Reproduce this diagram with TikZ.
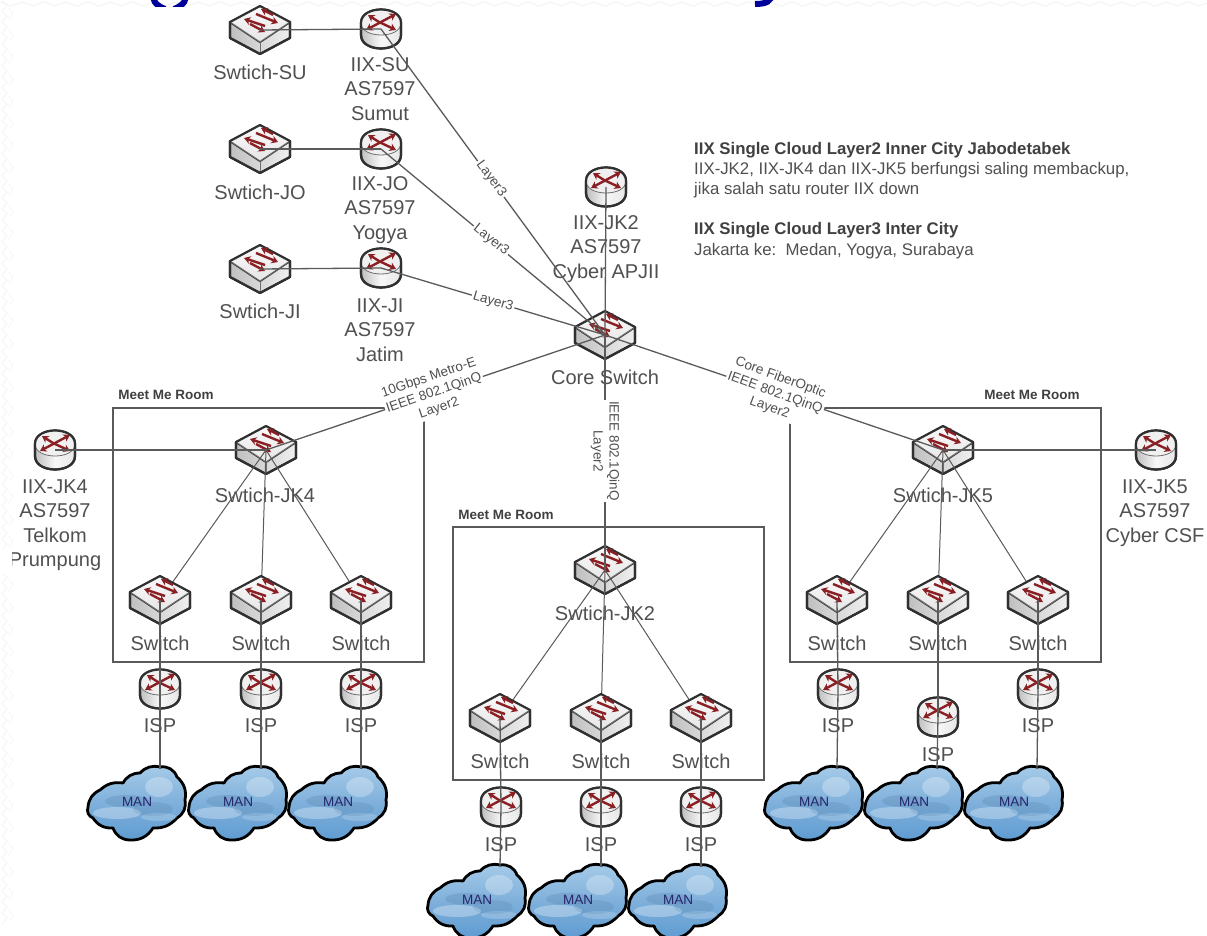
\documentclass[tikz,border=0pt]{standalone}
\usepackage{fontspec}
\setmainfont{Liberation Sans}
\usetikzlibrary{arrows.meta,shadings,calc}
\definecolor{txt}{HTML}{505050}
\definecolor{ln}{HTML}{5A5A5A}
\definecolor{edgek}{HTML}{303030}
\definecolor{redk}{HTML}{8A1F24}
\definecolor{titleblue}{HTML}{00009A}
\definecolor{cloudhi}{HTML}{A6CBE8}
\definecolor{cloudlo}{HTML}{5F9CD2}
\tikzset{
  big/.style={font=\fontsize{20}{24}\selectfont,text=txt,inner sep=0pt,align=center},
  small/.style={font=\fontsize{13.5}{16}\selectfont,text=txt,inner sep=1.5pt,align=center},
  onlink/.style={small,fill=white},
  room/.style={font=\fontsize{13.5}{16}\selectfont\bfseries,text=black!75,inner sep=0pt},
  note/.style={font=\fontsize{16.8}{20}\selectfont,text=txt,inner sep=0pt,anchor=west},
  noteb/.style={font=\fontsize{16.8}{20}\selectfont\bfseries,text=black!75,inner sep=0pt,anchor=west},
  link/.style={draw=ln,line width=1.3pt},
  boxline/.style={draw=ln,line width=1.4pt},
  redar/.style={draw=redk,line width=2.4pt,-{Stealth[length=6.5pt,width=8pt]}},
  iconedge/.style={draw=edgek,line width=2.2pt,line join=round},
}
\newcommand{\swicon}[3]{%
  \coordinate (#1) at (#2,#3);
  \begin{scope}[shift={(#2,#3)}]
    \path[iconedge,left color=black!25,right color=black!6] (-30,-8) -- (0,12) -- (30,-8) -- (30,8) -- (0,24) -- (-30,8) -- cycle;
    \path[draw=edgek!70,line width=1pt,top color=black!2,bottom color=black!10] (0,-24) -- (30,-8) -- (0,12) -- (-30,-8) -- cycle;
    \draw[draw=edgek!70,line width=1pt] (0,12) -- (0,24);
    \draw[iconedge] (0,-24) -- (30,-8) -- (30,8) -- (0,24) -- (-30,8) -- (-30,-8) -- cycle;
    \draw[redar] (13,-15) -- (1,-21);
    \draw[redar] (-4,-16) -- (18,-7);
    \draw[redar] (5,-4) -- (-16,-11);
    \draw[redar] (-10,-6) -- (5,2);
  \end{scope}}
\newcommand{\rticon}[3]{%
  \coordinate (#1) at (#2,#3);
  \begin{scope}[shift={(#2,#3)}]
    \path[iconedge,left color=black!25,right color=black!10,middle color=black!3]
      (-20,-6) .. controls (-20,-24) and (20,-24) .. (20,-6) -- (20,6)
      .. controls (20,24) and (-20,24) .. (-20,6) -- cycle;
    \path[draw=edgek!70,line width=.8pt,fill=white!94!black]
      (-20,-6) .. controls (-20,-24) and (20,-24) .. (20,-6)
      .. controls (20,10) and (-20,10) .. (-20,-6) -- cycle;
    \draw[iconedge,fill=none]
      (-20,-6) .. controls (-20,-24) and (20,-24) .. (20,-6) -- (20,6)
      .. controls (20,24) and (-20,24) .. (-20,6) -- cycle;
    \draw[redar] (-2,-7) -- (-13,-14);
    \draw[redar] (-2,-7) -- (15,1);
    \draw[redar] (0,-7) -- (15,-15);
    \draw[redar] (0,-7) -- (-15,1);
  \end{scope}}
\newcommand{\cloudicon}[3]{%
  \coordinate (#1) at (#2,#3);
  \begin{scope}[shift={(#2,#3)}]
    \coordinate (#1-t) at (23,-36);
    \path[draw=black,line width=2.8pt,line join=round,top color=cloudhi,bottom color=cloudlo,middle color=cloudlo!80!white]
      (23,-38) to[bend left=40] (40,-28) to[bend left=30] (48,-5) to[bend left=35] (40,13)
      to[bend left=25] (16,23) to[bend left=30] (-7,35) to[bend left=35] (-24,23)
      to[bend left=30] (-44,13) to[bend left=45] (-49,2) to[bend left=30] (-37,-15)
      to[bend left=25] (-14,-22) to[bend left=30] (3,-32) to[bend left=30] cycle;
    \fill[white,opacity=.3] (-20,8) ellipse[x radius=24pt,y radius=6pt];
    \fill[white,opacity=.28] (22,-18) ellipse[x radius=14pt,y radius=10pt];
    \fill[white,opacity=.2] (22,12) ellipse[x radius=18pt,y radius=4pt];
    \fill[cloudlo!70!black,opacity=.2] (-10,-4) ellipse[x radius=22pt,y radius=6pt];
    \fill[cloudlo!70!black,opacity=.16] (16,4) ellipse[x radius=20pt,y radius=7pt];
  \end{scope}
  \node[small,inner sep=0pt,text=black!60!blue!70!gray] (#1-l) at ($(#2,#3)+(0,-3)$) {MAN};}
\begin{document}
\begin{tikzpicture}[x=1pt,y=-1pt]
\useasboundingbox (0,0) rectangle (1207,936);
\clip (0,0) rectangle (1207,936);
\fill[white] (0,0) rectangle (1207,936);
% faint slide texture
\foreach \k in {0,22,...,920}{
  \draw[black!4,line width=.8pt] (2,\k) -- (7,\k+5) -- (2,\k+11) -- (7,\k+16) -- (2,\k+22);
  \draw[black!3,line width=.8pt] (9,\k+8) -- (13,\k+13) -- (9,\k+19);
}
\foreach \k in {0,22,...,1200}{
  \draw[black!5,line width=.8pt] (\k,2) -- (\k+11,6) -- (\k+22,2);
}
% clipped title fragments
\begin{scope}
  \clip (0,0) rectangle (1207,7);
  \draw[titleblue,line width=6pt] (153,-8) .. controls (152,0) and (155,5) .. (165,9);
  \draw[titleblue,line width=6pt] (186,-8) .. controls (187,0) and (184,5) .. (174,9);
  \draw[titleblue,line width=6pt] (772,-6) .. controls (771,1) and (767,4) .. (755,4);
\end{scope}

% rooms
\path[boxline] (113,408) rectangle (424,662);
\path[boxline] (790,408) rectangle (1101,662);
\path[boxline] (453,527) rectangle (764,780);
\node[room] (roomL) at (166,395) {Meet Me Room};
\node[room] (roomR) at (1032,395) {Meet Me Room};
\node[room] (roomM) at (506,515) {Meet Me Room};

% upper devices
\swicon{sSU}{260}{30}
\swicon{sJO}{260}{149}
\swicon{sJI}{260}{269}
\rticon{rSU}{381}{29}
\rticon{rJO}{381}{149}
\rticon{rJI}{381}{268}
\rticon{rJK2}{606}{187}
\swicon{core}{605}{335}
\swicon{sJK4}{266}{450}
\swicon{sJK5}{943}{450}
\swicon{sJK2}{605}{570}
\rticon{rJK4}{55}{450}
\rticon{rJK5}{1156}{450}

% device labels
\node[big] (tSU) at (260,72) {Swtich-SU};
\node[big] (tJO) at (260,192) {Swtich-JO};
\node[big] (tJI) at (260,311) {Swtich-JI};
\node[big,font=\fontsize{20}{24.5}\selectfont] (tRSU) at (380,89) {IIX-SU\\AS7597\\Sumut};
\node[big,font=\fontsize{20}{24.5}\selectfont] (tRJO) at (380,210) {IIX-JO\\AS7597\\Yogya};
\node[big,font=\fontsize{20}{24.5}\selectfont] (tRJI) at (380,330) {IIX-JI\\AS7597\\Jatim};
\node[big,font=\fontsize{20}{24.5}\selectfont] (tJK2) at (606,249) {IIX-JK2\\AS7597\\Cyber APJII};
\node[big] (tCore) at (605,377) {Core Switch};
\node[big] (tSJK4) at (265,495) {Swtich-JK4};
\node[big] (tSJK5) at (943,495) {Swtich-JK5};
\node[big] (tSJK2) at (605,613) {Swtich-JK2};
\node[big,font=\fontsize{20}{24.5}\selectfont] (tRJK4) at (55,525) {IIX-JK4\\AS7597\\Telkom\\Prumpung};
\fill[white] (0,550) rectangle (11.5,574);
\node[big,font=\fontsize{20}{24.5}\selectfont] (tRJK5) at (1155,513) {IIX-JK5\\AS7597\\Cyber CSF};

% upper connectors
\draw[link] (sSU) -- (rSU);
\draw[link] (sJO) -- (rJO);
\draw[link] (sJI) -- (rJI);
\draw[link] (rSU) -- (core);
\draw[link] (rJO) -- (core);
\draw[link] (rJI) -- (core);
\draw[link] (rJK2) -- (core);
\draw[link] (core) -- (sJK4);
\draw[link] (core) -- (sJK5);
\draw[link] (core) -- (sJK2);
\draw[link] (rJK4) -- (sJK4);
\draw[link] (sJK5) -- (rJK5);

% connector labels
\node[onlink,rotate=-54] (lbSU) at (491,179) {Layer3};
\node[onlink,rotate=-39] (lbJO) at (491,240) {Layer3};
\node[onlink,rotate=-16] (lbJI) at (493,302) {Layer3};
\node[onlink,rotate=18.7] (lbL) at (434,393) {10Gbps Metro-E\\IEEE 802.1QinQ\\Layer2};
\node[onlink,rotate=-20] (lbR) at (775,393) {Core FiberOptic\\IEEE 802.1QinQ\\Layer2};
\node[onlink,rotate=-90] (lbM) at (605,451) {IEEE 802.1QinQ\\Layer2};

% links to lower switches (passing under them)
\coordinate (a1) at (160,600); \coordinate (a2) at (261,600); \coordinate (a3) at (361,600);
\coordinate (b1) at (500,718); \coordinate (b2) at (601,718); \coordinate (b3) at (701,718);
\coordinate (c1) at (837,600); \coordinate (c2) at (938,600); \coordinate (c3) at (1038,600);
\draw[link,line width=1pt] (sJK4) -- (a1); \draw[link,line width=1pt] (sJK4) -- (a2); \draw[link,line width=1pt] (sJK4) -- (a3);
\draw[link,line width=1pt] (sJK2) -- (b1); \draw[link,line width=1pt] (sJK2) -- (b2); \draw[link,line width=1pt] (sJK2) -- (b3);
\draw[link,line width=1pt] (sJK5) -- (c1); \draw[link,line width=1pt] (sJK5) -- (c2); \draw[link,line width=1pt] (sJK5) -- (c3);

% lower devices
\swicon{sa1}{160}{600} \swicon{sa2}{261}{600} \swicon{sa3}{361}{600}
\swicon{sb1}{500}{718} \swicon{sb2}{601}{718} \swicon{sb3}{701}{718}
\swicon{sc1}{837}{600} \swicon{sc2}{938}{600} \swicon{sc3}{1038}{600}
\rticon{ia1}{160}{689} \rticon{ia2}{261}{689} \rticon{ia3}{361}{689}
\rticon{ib1}{501}{807} \rticon{ib2}{601}{807} \rticon{ib3}{701}{807}
\rticon{ic1}{838}{689} \rticon{ic2}{938}{717} \rticon{ic3}{1038}{689}
\cloudicon{ma1}{137}{805} \cloudicon{ma2}{238}{805} \cloudicon{ma3}{338}{805}
\cloudicon{mb1}{477}{903} \cloudicon{mb2}{578}{903} \cloudicon{mb3}{678}{903}
\cloudicon{mc1}{814}{805} \cloudicon{mc2}{914}{805} \cloudicon{mc3}{1014}{805}

\foreach \n/\x/\y in {a1/160/643,a2/261/643,a3/361/643,b1/500/761,b2/601/761,b3/701/761,c1/837/643,c2/938/643,c3/1038/643}{
  \node[big] (sw\n) at (\x,\y) {Switch};
}
\foreach \n/\x/\y in {a1/160/726,a2/261/726,a3/361/726,b1/501/845,b2/601/845,b3/701/845,c1/838/726,c2/938/755,c3/1038/726}{
  \node[big] (isp\n) at (\x,\y) {ISP};
}
\foreach \n in {a1,a2,a3,b1,b2,b3,c1,c2,c3}{
  \draw[link] (s\n) -- (i\n);
  \draw[link] (i\n) -- (m\n-t);
}

% notes
\node[noteb] (n1) at (694,150) {IIX Single Cloud Layer2 Inner City Jabodetabek};
\node[note] (n2) at (694,170) {IIX-JK2, IIX-JK4 dan IIX-JK5 berfungsi saling membackup,};
\node[note] (n3) at (694,190) {jika salah satu router IIX down};
\node[noteb] (n4) at (694,230) {IIX Single Cloud Layer3 Inter City};
\node[note] (n5) at (694,251) {Jakarta ke:\ \ Medan, Yogya, Surabaya};
\end{tikzpicture}
\end{document}
